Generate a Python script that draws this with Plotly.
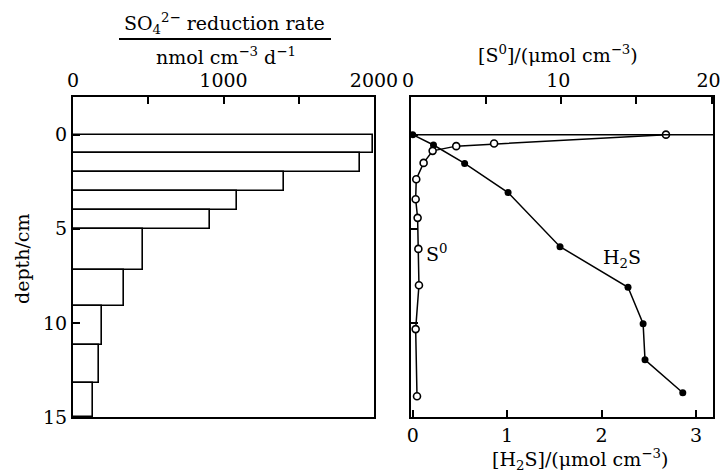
import plotly.graph_objects as go

# ---------------- data ----------------
depth_edges = [0, 1, 2, 3, 4, 5, 7.2, 9.1, 11.2, 13.2, 15]
so4_rate = [1995, 1910, 1400, 1090, 910, 465, 340, 190, 170, 130]

s0_depth = [0, 0.47, 0.61, 0.86, 1.5, 2.37, 3.43, 4.42, 6.07, 8.0, 10.33, 13.9]
s0_conc = [16.97, 5.53, 3.01, 1.44, 0.84, 0.35, 0.31, 0.44, 0.49, 0.53, 0.31, 0.40]

h2s_depth = [0, 0.55, 1.53, 3.08, 5.95, 8.11, 10.04, 11.96, 13.71]
h2s_conc = [0, 0.22, 0.55, 1.01, 1.56, 2.28, 2.44, 2.46, 2.86]

rate_ticks = [0, 500, 1000, 1500, 2000]
rate_labels = ["0", "", "1000", "", "2000"]
s0_ticks = [0, 5, 10, 15, 20]
s0_labels = ["0", "", "10", "", "20"]
h2s_ticks = [0, 1, 2, 3]
depth_ticks = [0, 5, 10, 15]

W, H = 721, 472
FONT = "DejaVu Serif"
FS = 19

def px(x):
    return x / W

def py(y):
    return 1 - y / H

centers = [(a + b) / 2 for a, b in zip(depth_edges[:-1], depth_edges[1:])]
thick = [b - a for a, b in zip(depth_edges[:-1], depth_edges[1:])]

fig = go.Figure()
fig.add_trace(go.Bar(
    x=so4_rate, y=centers, width=thick, orientation="h", base=0,
    marker=dict(color="white", line=dict(color="black", width=1.6)),
    xaxis="x", yaxis="y", showlegend=False,
))
fig.add_trace(go.Scatter(
    x=h2s_conc, y=h2s_depth, mode="lines+markers",
    line=dict(color="black", width=1.5),
    marker=dict(symbol="circle", size=7, color="black"),
    xaxis="x2", yaxis="y2", showlegend=False,
))
fig.add_trace(go.Scatter(
    x=s0_conc, y=s0_depth, mode="lines+markers",
    line=dict(color="black", width=1.5),
    marker=dict(symbol="circle", size=7, color="white", line=dict(color="black", width=1.6)),
    xaxis="x3", yaxis="y2", showlegend=False,
))

ydom = [py(417), py(97)]
axis_common = dict(showgrid=False, zeroline=False, showline=True, linecolor="black",
                   linewidth=2, mirror=True, ticks="inside", ticklen=7, tickwidth=1.5,
                   tickcolor="black", automargin=False, ticklabeloverflow="allow",
                   tickfont=dict(family=FONT, size=FS, color="black"))

fig.update_layout(
    template="none",
    width=W, height=H, margin=dict(l=0, r=0, t=0, b=0, pad=0, autoexpand=False),
    paper_bgcolor="white", plot_bgcolor="white",
    font=dict(family=FONT, size=FS, color="black"),
    bargap=0,
    xaxis=dict(domain=[px(73), px(374)], range=[0, 2000], side="top", anchor="y",
               tickvals=rate_ticks, ticktext=rate_labels, **axis_common),
    yaxis=dict(domain=ydom, range=[15, -2], anchor="x", tickvals=depth_ticks,
               ticktext=[str(t) for t in depth_ticks], **axis_common),
    xaxis2=dict(domain=[px(411), px(713)], range=[-0.018, 3.18], side="bottom", anchor="y2",
                tickvals=h2s_ticks, ticktext=[str(t) for t in h2s_ticks], **axis_common),
    xaxis3=dict(overlaying="x2", range=[0, 20.1], side="top", anchor="y2",
                tickvals=s0_ticks, ticktext=s0_labels, ticklabelshift=-3, **axis_common),
    yaxis2=dict(domain=ydom, range=[15, -2], anchor="x2", tickvals=depth_ticks,
                showticklabels=False, **axis_common),
)

# depth-zero reference line on the right panel
fig.add_shape(type="line", xref="x2 domain", yref="y2", x0=0, x1=1, y0=0, y1=0,
              line=dict(color="black", width=1.5))
# fraction bar of the left title
fig.add_shape(type="line", xref="paper", yref="paper", x0=px(119), x1=px(331),
              y0=py(39), y1=py(39), line=dict(color="black", width=2))

def ann(text, x, y, size=FS, angle=0):
    fig.add_annotation(text=text, x=px(x), y=py(y), xref="paper", yref="paper",
                       showarrow=False, xanchor="center", yanchor="middle",
                       textangle=angle, font=dict(family=FONT, size=size, color="black"))

ann("SO<sub>4</sub><sup>2−</sup> reduction rate", 225, 24)
ann("nmol cm<sup>−3</sup> d<sup>−1</sup>", 226, 56)
ann("[S<sup>0</sup>]/(μmol cm<sup>−3</sup>)", 558, 54)
ann("[H<sub>2</sub>S]/(μmol cm<sup>−3</sup>)", 580, 459)
ann("depth/cm", 22, 259, angle=-90)
ann("S<sup>0</sup>", 437, 253)
ann("H<sub>2</sub>S", 622, 258)

fig.write_html("out.html")
